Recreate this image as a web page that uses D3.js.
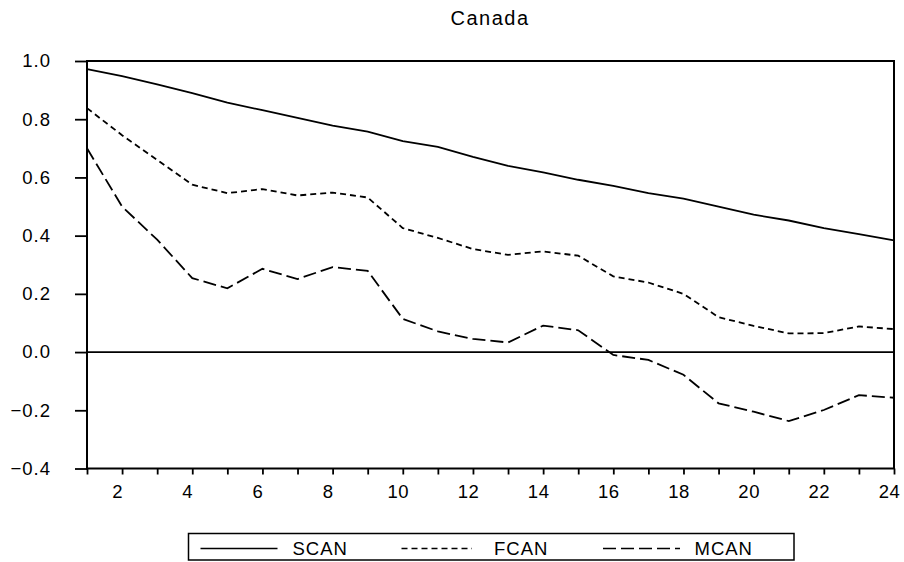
<!DOCTYPE html>
<html>
<head>
<meta charset="utf-8">
<script src="https://cdn.jsdelivr.net/npm/d3@7"></script>
<style>
  html, body { margin: 0; padding: 0; background: #fff; }
  svg { display: block; }
  text { font-family: "Liberation Sans", Arial, sans-serif; fill: #000; }
</style>
</head>
<body>
<svg id="chart" width="904" height="562"></svg>
<script>
// Horizon (periods) and the three response series for Canada
const periods = [1, 2, 3, 4, 5, 6, 7, 8, 9, 10, 11, 12, 13, 14, 15, 16, 17, 18, 19, 20, 21, 22, 23, 24];
const scan = [0.972, 0.948, 0.920, 0.890, 0.857, 0.831, 0.805, 0.778, 0.757, 0.725, 0.705, 0.671, 0.640, 0.617, 0.592, 0.571, 0.546, 0.527, 0.500, 0.472, 0.452, 0.426, 0.405, 0.384];
const fcan = [0.838, 0.745, 0.660, 0.575, 0.546, 0.560, 0.538, 0.548, 0.531, 0.426, 0.392, 0.354, 0.334, 0.346, 0.331, 0.260, 0.239, 0.200, 0.120, 0.090, 0.064, 0.065, 0.088, 0.079];
const mcan = [0.700, 0.500, 0.386, 0.254, 0.219, 0.286, 0.251, 0.292, 0.279, 0.114, 0.071, 0.045, 0.033, 0.091, 0.075, -0.010, -0.027, -0.078, -0.176, -0.205, -0.237, -0.199, -0.148, -0.157];
const xTickValues = [2, 4, 6, 8, 10, 12, 14, 16, 18, 20, 22, 24];
const yTickValues = [-0.4, -0.2, 0.0, 0.2, 0.4, 0.6, 0.8, 1.0];
const seriesNames = ["SCAN", "FCAN", "MCAN"];
const title = "Canada";

const svg = d3.select("#chart");

const x = d3.scaleLinear().domain([1, 24]).range([87, 894]);
const y = d3.scaleLinear().domain([-0.4, 1.0]).range([468.5, 61]);

const dashes = { SCAN: null, FCAN: "6,4", MCAN: "13,5" };
const series = [
  { name: "SCAN", values: scan },
  { name: "FCAN", values: fcan },
  { name: "MCAN", values: mcan }
];

// Title
svg.append("text")
  .attr("x", 490).attr("y", 25)
  .attr("text-anchor", "middle")
  .style("font-size", "20px")
  .style("letter-spacing", "1.5px")
  .text(title);

// Zero reference line
svg.append("line")
  .attr("x1", x(1)).attr("x2", x(24))
  .attr("y1", y(0)).attr("y2", y(0))
  .attr("stroke", "#000").attr("stroke-width", 1.8);

// Series lines
const line = d3.line()
  .x((d, i) => x(periods[i]))
  .y(d => y(d));

svg.append("g").selectAll("path")
  .data(series)
  .join("path")
  .attr("d", d => line(d.values))
  .attr("fill", "none")
  .attr("stroke", "#000")
  .attr("stroke-width", 1.8)
  .attr("stroke-dasharray", d => dashes[d.name]);

// Left axis
const yAxis = d3.axisLeft(y)
  .tickValues(yTickValues)
  .tickFormat(d3.format(".1f"))
  .tickSize(12)
  .tickPadding(24);
const gy = svg.append("g").attr("transform", `translate(${x(1)},0)`).call(yAxis);
gy.select(".domain").remove();
gy.selectAll(".tick line").attr("stroke-width", 1.8);
gy.selectAll(".tick text")
  .style("font-size", "18.5px")
  .style("font-family", "'Liberation Sans', Arial, sans-serif")
  .style("letter-spacing", "1px");

// Bottom axis: minor ticks at every period, labels at even periods
const xAxisMinor = d3.axisBottom(x).tickValues(periods).tickSize(6).tickFormat("");
const gxm = svg.append("g").attr("transform", `translate(0,${y(-0.4)})`).call(xAxisMinor);
gxm.select(".domain").remove();
gxm.selectAll(".tick line").attr("stroke-width", 1.8);

const xAxis = d3.axisBottom(x).tickValues(xTickValues).tickSize(0).tickPadding(16)
  .tickFormat(d3.format("d"));
const gx = svg.append("g").attr("transform", `translate(0,${y(-0.4)})`).call(xAxis);
gx.select(".domain").remove();
gx.selectAll(".tick text")
  .attr("dx", "-5")
  .style("font-size", "18.5px")
  .style("font-family", "'Liberation Sans', Arial, sans-serif")
  .style("letter-spacing", "0.5px");

// Plot frame
svg.append("rect")
  .attr("x", x(1)).attr("y", y(1.0))
  .attr("width", x(24) - x(1)).attr("height", y(-0.4) - y(1.0))
  .attr("fill", "none").attr("stroke", "#000").attr("stroke-width", 2);

// Legend
const legend = svg.append("g");
legend.append("rect")
  .attr("x", 188.5).attr("y", 533.5)
  .attr("width", 605.5).attr("height", 26.5)
  .attr("fill", "#fff").attr("stroke", "#000").attr("stroke-width", 1.5);

const legendItems = [
  { name: seriesNames[0], x1: 200.5, x2: 277.5, tx: 292.5 },
  { name: seriesNames[1], x1: 401.5, x2: 472, tx: 494 },
  { name: seriesNames[2], x1: 603, x2: 680, tx: 694.5 }
];
const li = legend.selectAll("g.item").data(legendItems).join("g").attr("class", "item");
li.append("line")
  .attr("x1", d => d.x1).attr("x2", d => d.x2)
  .attr("y1", 548.5).attr("y2", 548.5)
  .attr("stroke", "#000").attr("stroke-width", 1.5)
  .attr("stroke-dasharray", d => dashes[d.name]);
li.append("text")
  .attr("x", d => d.tx).attr("y", 555)
  .style("font-size", "18.5px")
  .style("letter-spacing", "1px")
  .text(d => d.name);
</script>
</body>
</html>
